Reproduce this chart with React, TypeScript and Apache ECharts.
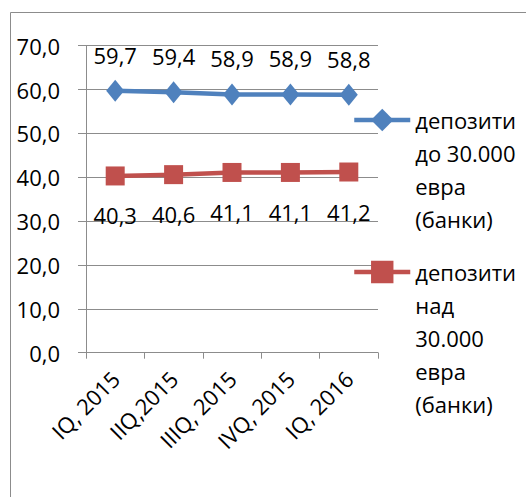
import React, { useEffect, useRef } from "react";
import * as echarts from "echarts";

const categories = ["IQ, 2015", "IIQ,2015", "IIIQ, 2015", "IVQ, 2015", "IQ, 2016"];
const seriesNames = ["депозити\nдо 30.000\nевра\n(банки)", "депозити\nнад\n30.000\nевра\n(банки)"];
const under30k = [59.7, 59.4, 58.9, 58.9, 58.8];
const over30k = [40.3, 40.6, 41.1, 41.1, 41.2];
const yTicks = { min: 0, max: 70, interval: 10 };

const FONT = "'Open Sans', 'Noto Sans', sans-serif";
const FS = 22;
const LH = 33;
const fmt = (v: number) => v.toFixed(1).replace(".", ",");

export default function App() {
  const ref = useRef<HTMLDivElement>(null);
  useEffect(() => {
    if (!ref.current) return;
    const chart = echarts.init(ref.current, null, { renderer: "svg" });
    const makeLegend = (name: string, iconCenterY: number) => {
      const n = name.split("\n").length;
      return {
        orient: "vertical" as const,
        left: 352,
        top: iconCenterY - ((2 * n - 1) * LH) / 2,
        padding: 0,
        itemWidth: 56,
        itemHeight: 28,
        lineStyle: { width: 4.5 },
        data: [name],
        formatter: (nm: string) => "\n".repeat(n - 1) + nm,
        textStyle: { fontFamily: FONT, fontSize: FS, lineHeight: LH, color: "#000" },
      };
    };
    chart.setOption({
      animation: false,
      textStyle: { fontFamily: FONT },
      graphic: [
        {
          type: "rect",
          shape: { x: 10.5, y: 12.5, width: 700, height: 700 },
          style: { fill: "none", stroke: "#8c8c8c", lineWidth: 1 },
          silent: true,
        },
      ],
      legend: [makeLegend(seriesNames[0], 120), makeLegend(seriesNames[1], 272)],
      grid: { left: 86, right: 148, top: 45.7, bottom: 144.3, containLabel: false },
      xAxis: {
        type: "category",
        data: categories,
        boundaryGap: true,
        axisLine: { lineStyle: { color: "#8c8c8c", width: 1 } },
        axisTick: { show: true, length: 6, lineStyle: { color: "#8c8c8c" } },
        axisLabel: { rotate: 45, margin: 22, fontFamily: FONT, fontSize: FS, color: "#000", interval: 0 },
      },
      yAxis: {
        type: "value",
        min: yTicks.min,
        max: yTicks.max,
        interval: yTicks.interval,
        axisLine: { show: true, lineStyle: { color: "#8c8c8c", width: 1 } },
        axisTick: { show: true, length: 8, lineStyle: { color: "#8c8c8c" } },
        splitLine: { show: true, lineStyle: { color: "#8c8c8c", width: 1 } },
        axisLabel: { margin: 26, fontFamily: FONT, fontSize: FS, color: "#000", formatter: (v: number) => fmt(v) },
      },
      series: [
        {
          name: seriesNames[0],
          type: "line",
          data: under30k,
          symbol: "diamond",
          symbolSize: [18, 22],
          lineStyle: { color: "#4F81BD", width: 4.5 },
          itemStyle: { color: "#4F81BD" },
          label: {
            show: true,
            position: "top",
            distance: 14,
            fontFamily: FONT,
            fontSize: FS,
            color: "#000",
            formatter: (p: any) => fmt(p.value),
          },
        },
        {
          name: seriesNames[1],
          type: "line",
          data: over30k,
          symbol: "rect",
          symbolSize: 19,
          lineStyle: { color: "#C0504D", width: 4.5 },
          itemStyle: { color: "#C0504D" },
          label: {
            show: true,
            position: "bottom",
            distance: 19,
            fontFamily: FONT,
            fontSize: FS,
            color: "#000",
            formatter: (p: any) => fmt(p.value),
          },
        },
      ],
    });
    return () => chart.dispose();
  }, []);
  return (
    <div
      ref={ref}
      style={{ position: "fixed", left: 0, top: 0, width: 526, height: 497, background: "#fff" }}
    />
  );
}
